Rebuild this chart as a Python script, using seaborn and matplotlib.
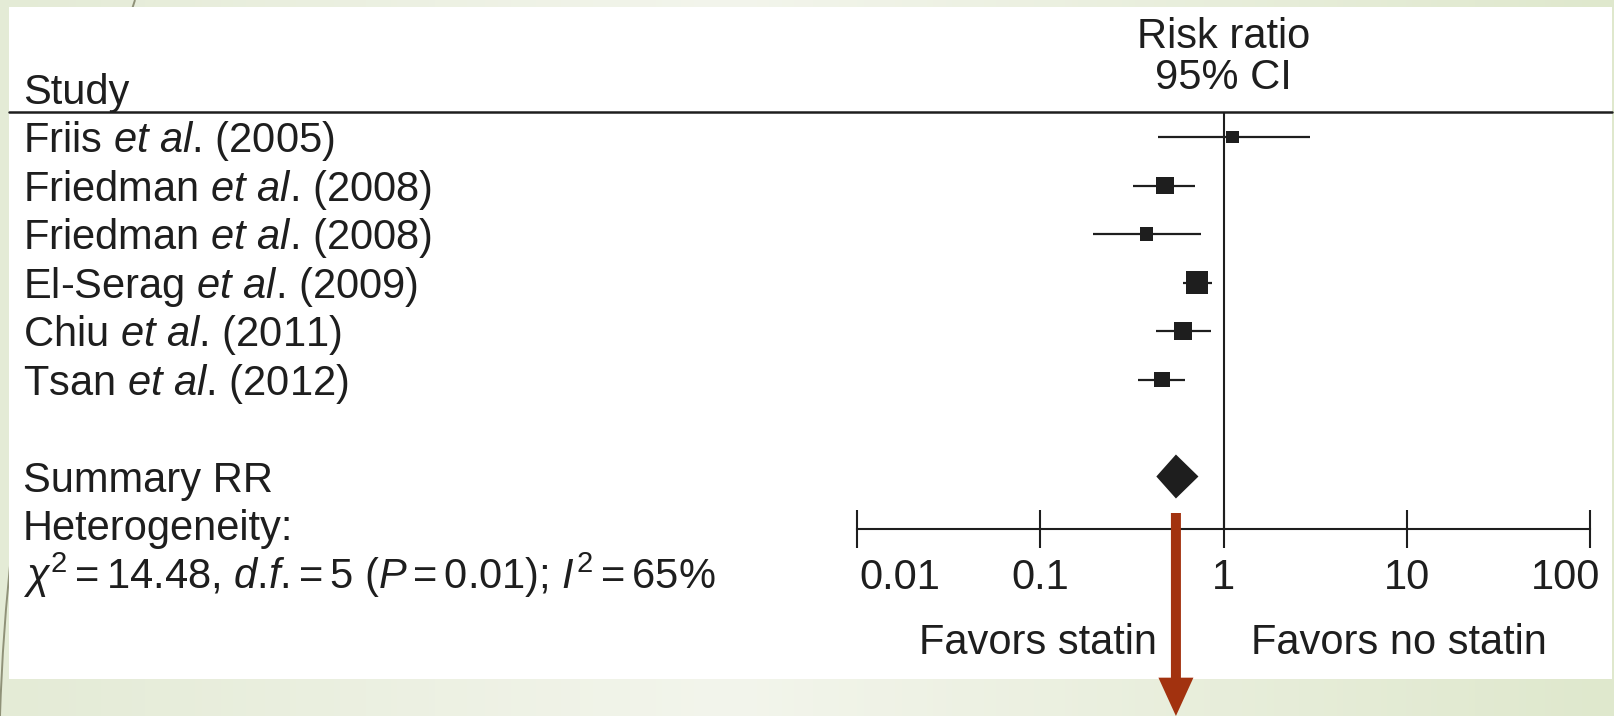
import numpy as np
import pandas as pd
import seaborn as sns
import matplotlib.pyplot as plt
from matplotlib import transforms
from matplotlib.lines import Line2D
from matplotlib.patches import Rectangle, PathPatch
from matplotlib.path import Path
from matplotlib.colors import LinearSegmentedColormap
from matplotlib.ticker import NullLocator

# Theme
sns.set_theme(context="notebook", style="white")
plt.rcParams["font.family"] = ["Liberation Sans", "DejaVu Sans"]
plt.rcParams["mathtext.fontset"] = "custom"
plt.rcParams["mathtext.rm"] = "Liberation Sans"
plt.rcParams["mathtext.it"] = "Liberation Sans:italic"
plt.rcParams["mathtext.bf"] = "Liberation Sans:bold"

# Data
authors = ["Friis", "Friedman", "Friedman", "El-Serag", "Chiu", "Tsan"]
years = [2005, 2008, 2008, 2009, 2011, 2012]
rr = [1.12, 0.48, 0.38, 0.72, 0.60, 0.46]
ci_low = [0.44, 0.32, 0.195, 0.60, 0.43, 0.34]
ci_high = [2.95, 0.70, 0.75, 0.87, 0.85, 0.62]
weights = [9, 19, 11, 29, 20, 15]
summary_rr = 0.55
summary_low = 0.43
summary_high = 0.73
tick_values = [0.01, 0.1, 1, 10, 100]
tick_labels = ["0.01", "0.1", "1", "10", "100"]

df = pd.DataFrame({"author": authors, "year": years, "rr": rr,
                   "low": ci_low, "high": ci_high, "weight": weights})
df["row"] = np.arange(len(df))
summary_row = len(df) + 1

# Figure geometry (pixels of the 1614x716 canvas)
W, H = 1614, 716
ink = "#1e1e1e"
red = "#a2320f"
fs = 30

fig = plt.figure(figsize=(W / 100, H / 100), dpi=100)

# slide background with soft green gradient
bg = fig.add_axes([0, 0, 1, 1])
bg.set_zorder(-2)
grad = LinearSegmentedColormap.from_list(
    "slide", [(0, "#e4ebd6"), (0.45, "#f3f5ec"), (1, "#dfe8cd")])
bg.imshow(np.linspace(0, 1, 256)[None, :], aspect="auto", cmap=grad,
          extent=[0, 1, 0, 1])
bg.axis("off")

# decorative curved stroke (slide theme) and white panel
stroke = Path([(135 / W, 1), (10 / W, 1 - 380 / H), (0, 0)],
              [Path.MOVETO, Path.CURVE3, Path.CURVE3])
fig.add_artist(PathPatch(stroke, transform=fig.transFigure, fill=False,
                         edgecolor="#8f9178", lw=1.4, zorder=-1))
fig.add_artist(Rectangle((9 / W, 1 - 679 / H), (1612 - 9) / W, (679 - 7) / H,
                         transform=fig.transFigure, facecolor="white",
                         edgecolor="none", zorder=-0.5))
fig.add_artist(Line2D([9 / W, 1612 / W], [1 - 112 / H, 1 - 112 / H],
                      color=ink, lw=1.8, zorder=1))

# forest plot axes
row_h = 48.5
top_px, axis_px, first_px = 112, 529, 137
ax = fig.add_axes([857 / W, 1 - axis_px / H, (1590 - 857) / W,
                   (axis_px - top_px) / H])
ax.patch.set_alpha(0)

ax.hlines(df["row"], df["low"], df["high"], color=ink, lw=1.6)
size_map = {w: 8.7 * w for w in weights}
sns.scatterplot(data=df, x="rr", y="row", size="weight", sizes=size_map,
                marker="s", color=ink, linewidth=0, legend=False, ax=ax,
                zorder=3)
h = 22 / row_h
ax.fill([summary_low, summary_rr, summary_high, summary_rr],
        [summary_row, summary_row - h, summary_row, summary_row + h],
        color=ink, lw=0, zorder=3)
ax.axvline(1, color=ink, lw=1.5)

ax.set_xscale("log")
ax.set_xlim(0.01, 100)
ax.set_ylim((axis_px - first_px) / row_h, (top_px - first_px) / row_h)
ax.set_xticks(tick_values, tick_labels)
ax.xaxis.set_minor_locator(NullLocator())
ax.set_yticks([])
ax.set_xlabel("")
ax.set_ylabel("")
for side in ["top", "left", "right"]:
    ax.spines[side].set_visible(False)
ax.spines["bottom"].set_color(ink)
ax.spines["bottom"].set_linewidth(1.5)
ax.tick_params(axis="x", bottom=True, direction="inout", length=28,
               width=1.5, color=ink, pad=7, labelsize=fs, labelcolor=ink)
# outer labels sit inside the end ticks
xl = ax.get_xticklabels()
xl[0].set_horizontalalignment("left")
xl[0].set_transform(xl[0].get_transform() +
                    transforms.ScaledTranslation(2 / 100, 0, fig.dpi_scale_trans))
xl[-1].set_horizontalalignment("right")
xl[-1].set_transform(xl[-1].get_transform() +
                     transforms.ScaledTranslation(10 / 100, 0, fig.dpi_scale_trans))

# left-hand text column
left = transforms.blended_transform_factory(fig.transFigure, ax.transData)
tx = 23 / W
for r, a, y in zip(df["row"], authors, years):
    ax.text(tx, r + 0.31, f"{a} $\\mathit{{et}}$ $\\mathit{{al}}$. ({y})",
            transform=left, fontsize=fs, color=ink, va="baseline", ha="left")
ax.text(tx, summary_row + 0.31, "Summary RR", transform=left, fontsize=fs,
        color=ink, va="baseline")
ax.text(tx, summary_row + 1.31, "Heterogeneity:", transform=left, fontsize=fs,
        color=ink, va="baseline")
eq = "\u2006=\u2006"
ax.text(tx, summary_row + 2.31,
        r"$\chi^2$" + eq + r"14.48, $\mathit{d}$.$\mathit{f}$." + eq +
        r"5 ($\mathit{P}$" + eq + r"0.01); $\mathit{I}^2$" + eq + "65%",
        transform=left, fontsize=fs, color=ink, va="baseline")
ax.text(tx, (104 - first_px) / row_h, "Study", transform=left, fontsize=fs,
        color=ink, va="baseline")

# column header over the plot
ax.text(1, (48 - first_px) / row_h, "Risk ratio", fontsize=fs, color=ink,
        ha="center", va="baseline")
ax.text(1, (89 - first_px) / row_h, "95% CI", fontsize=fs, color=ink,
        ha="center", va="baseline")

# favours labels
ax.text(0.247, -0.273, "Favors statin", transform=ax.transAxes, fontsize=fs,
        color=ink, ha="center", va="center")
ax.text(0.739, -0.273, "Favors no statin", transform=ax.transAxes,
        fontsize=fs, color=ink, ha="center", va="center")

# red arrow from the pooled estimate down off the slide
ax.annotate("", xy=(summary_rr, 0), xycoords=("data", "figure fraction"),
            xytext=(summary_rr, 1 - 513 / H),
            textcoords=("data", "figure fraction"),
            arrowprops=dict(arrowstyle="simple,head_length=1.15,head_width=1.05,"
                                       "tail_width=0.3",
                            mutation_scale=24, fc=red, ec=red, lw=0,
                            shrinkA=0, shrinkB=0),
            annotation_clip=False, zorder=10)

fig.savefig("out.png", dpi=100)
